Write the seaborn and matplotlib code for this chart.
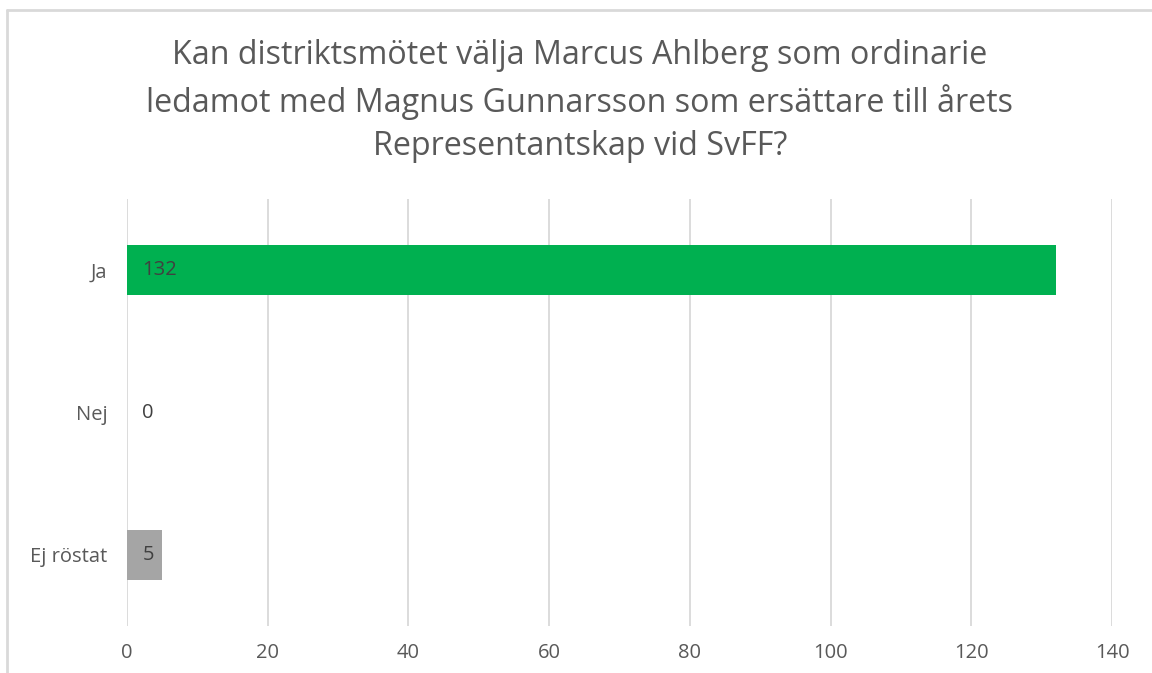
import matplotlib
matplotlib.use("Agg")
import matplotlib.pyplot as plt
import seaborn as sns
import pandas as pd
from matplotlib.lines import Line2D

categories = ["Ja", "Nej", "Ej röstat"]
values = [132, 0, 5]
bar_colors = ["#00B050", "#A5A5A5", "#A5A5A5"]
xticks = [0, 20, 40, 60, 80, 100, 120, 140]
title = ("Kan distriktsmötet välja Marcus Ahlberg som ordinarie\n"
         "ledamot med Magnus Gunnarsson som ersättare till årets\n"
         "Representantskap vid SvFF?")

sns.set_theme(style="white")
plt.rcParams["font.family"] = ["Open Sans", "DejaVu Sans"]
TXT = "#595959"

df = pd.DataFrame({"cat": categories, "val": values})

fig = plt.figure(figsize=(11.52, 6.73), dpi=100)
ax = fig.add_axes([127/1152, 1 - 626/673, (1112 - 127)/1152, (626 - 199)/673])

sns.barplot(data=df, y="cat", x="val", hue="cat", palette=bar_colors,
            order=categories, hue_order=categories, legend=False,
            width=0.35, ax=ax, saturation=1, linewidth=0, edgecolor="none")

ax.set_xlim(0, 140)
ax.set_ylim(2.5, -0.5)
ax.set_xticks(xticks)
ax.set_xticklabels([str(t) for t in xticks], color=TXT, fontsize=14.5)
ax.tick_params(axis="x", length=0, pad=12)
ax.tick_params(axis="y", length=0, pad=14, labelcolor=TXT, labelsize=14.5)
ax.set_xlabel("")
ax.set_ylabel("")
ax.xaxis.grid(True, color="#D9D9D9", linewidth=1.3)
ax.yaxis.grid(False)
ax.set_axisbelow(True)
for s in ax.spines.values():
    s.set_visible(False)

for i, v in enumerate(values):
    ax.annotate(str(v), xy=(0, i), xytext=(11, 0), textcoords="offset points",
                ha="left", va="center", color="#404040", fontsize=14.5)

fig.text(580/1152, 1 - 101/673, title, ha="center", va="center",
         fontsize=23.2, color=TXT, linespacing=1.43)

# outer chart border (partially visible)
fig.add_artist(Line2D([7/1152, 1.0], [1 - 10/673, 1 - 10/673],
                      transform=fig.transFigure, color="#D9D9D9", linewidth=2))
fig.add_artist(Line2D([7/1152, 7/1152], [0, 1 - 10/673],
                      transform=fig.transFigure, color="#D9D9D9", linewidth=2))

fig.savefig("out.png", dpi=100)
